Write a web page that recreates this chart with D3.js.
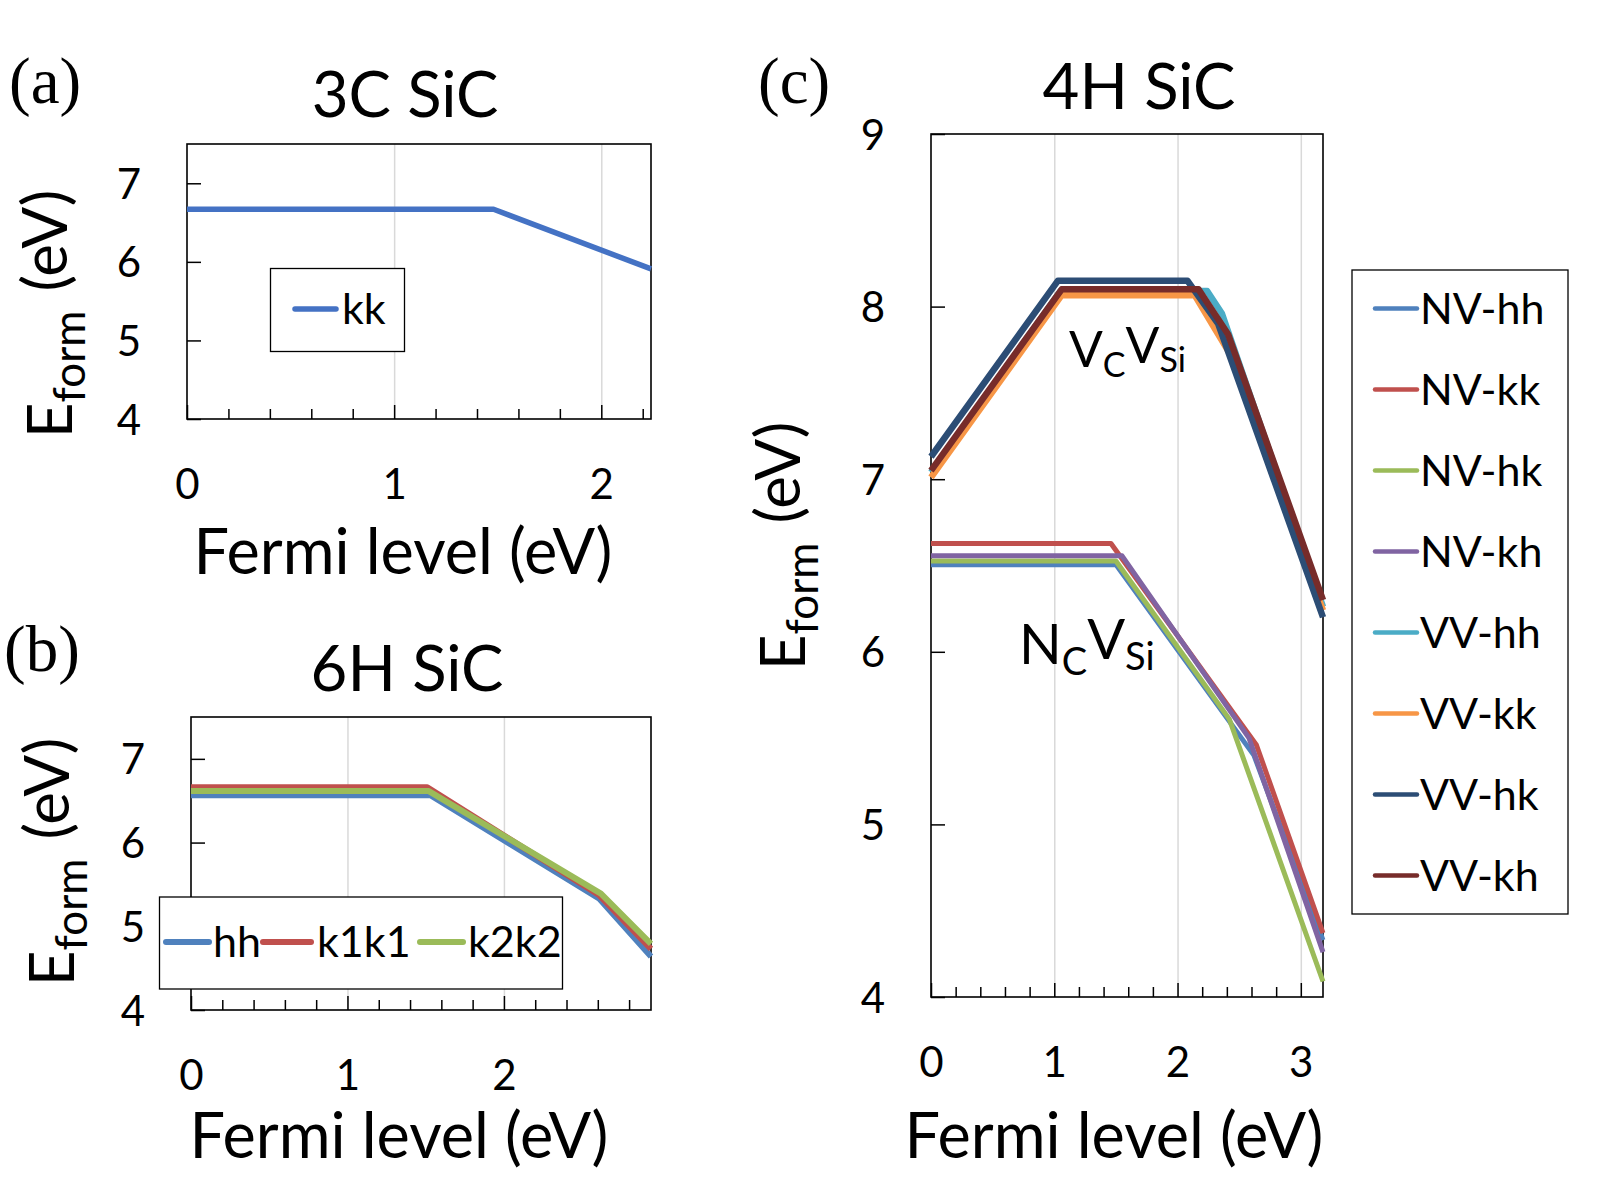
<!DOCTYPE html>
<html><head><meta charset="utf-8">
<script src="https://cdn.jsdelivr.net/npm/d3@7"></script>
<style>
html,body{margin:0;padding:0;background:#fff;}
svg text{font-family:Lato, "Open Sans", sans-serif;fill:#000;}
</style></head>
<body><svg id="fig" width="1613" height="1187"></svg>
<script>
// ---------- DATA ----------
// (a) 3C SiC
const fermi3C = [0, 1.48, 2.24];
const kk3C    = [6.67, 6.67, 5.91];
// (b) 6H SiC
const fermi6H_hh   = [0, 1.53, 2.61, 2.94];
const hh6H         = [6.565, 6.565, 5.33, 4.64];
const fermi6H_k1k1 = [0, 1.51, 2.61, 2.94];
const k1k1_6H      = [6.66, 6.66, 5.37, 4.73];
const fermi6H_k2k2 = [0, 1.52, 2.62, 2.94];
const k2k2_6H      = [6.615, 6.615, 5.39, 4.79];
// (c) 4H SiC
const fermiNVhh = [0, 1.50, 2.62, 3.18];  const NVhh = [6.505, 6.505, 5.40, 4.33];
const fermiNVkk = [0, 1.46, 2.64, 3.18];  const NVkk = [6.627, 6.627, 5.46, 4.37];
const fermiNVhk = [0, 1.50, 2.42, 3.18];  const NVhk = [6.526, 6.526, 5.61, 4.09];
const fermiNVkh = [0, 1.55, 2.58, 3.18];  const NVkh = [6.556, 6.556, 5.50, 4.26];
const fermiVVhh = [0, 1.05, 2.24, 2.36, 3.18]; const VVhh = [7.04, 8.09, 8.09, 7.96, 6.26];
const fermiVVkk = [0, 1.06, 2.14, 2.43, 3.18]; const VVkk = [7.01, 8.066, 8.066, 7.72, 6.24];
const fermiVVhk = [0, 1.03, 2.08, 2.33, 3.18]; const VVhk = [7.13, 8.15, 8.15, 7.90, 6.20];
const fermiVVkh = [0, 1.06, 2.17, 2.41, 3.18]; const VVkh = [7.05, 8.10, 8.10, 7.84, 6.30];

const names3C = ["kk"];
const names6H = ["hh", "k1k1", "k2k2"];
const names4H = ["NV-hh", "NV-kk", "NV-hk", "NV-kh", "VV-hh", "VV-kk", "VV-hk", "VV-kh"];
const xTicksA = [0, 1, 2], xTicksB = [0, 1, 2], xTicksC = [0, 1, 2, 3];
const yTicksAB = [4, 5, 6, 7], yTicksC = [4, 5, 6, 7, 8, 9];

// ---------- DRAWING ----------
const svg = d3.select("#fig");
const line = (xs, ys, x, y) => d3.line().x(d => x(d[0])).y(d => y(d[1]))(xs.map((v, i) => [v, ys[i]]));

function panel(o) {
  const g = svg.append("g");
  const x = d3.scaleLinear().domain(o.xDom).range([o.left, o.right]);
  const y = d3.scaleLinear().domain(o.yDom).range([o.bottom, o.top]);
  const h = o.bottom - o.top;
  // gridlines
  g.append("g").attr("transform", `translate(0,${o.bottom})`)
    .call(d3.axisBottom(x).tickValues(o.xTicks.filter(t => t > 0)).tickSize(-h).tickFormat(""))
    .call(s => s.select(".domain").remove())
    .call(s => s.selectAll("line").attr("stroke", "#d9d9d9").attr("stroke-width", 1.5));
  // minor ticks
  const minor = d3.range(0, o.xDom[1] + 1e-9, 0.2).filter(v => Math.abs(v - Math.round(v)) > 1e-6);
  g.append("g").attr("transform", `translate(0,${o.bottom})`)
    .call(d3.axisBottom(x).tickValues(minor).tickSize(-10).tickFormat(""))
    .call(s => s.select(".domain").remove())
    .call(s => s.selectAll("line").attr("stroke", "#000").attr("stroke-width", 1.5));
  // major x axis
  const xa = g.append("g").attr("transform", `translate(0,${o.bottom})`)
    .call(d3.axisBottom(x).tickValues(o.xTicks).tickSize(-14).tickFormat(d3.format("d")));
  xa.select(".domain").remove();
  xa.selectAll("line").attr("stroke", "#000").attr("stroke-width", 1.5);
  xa.selectAll("text").attr("y", 80).attr("dy", 0).style("font-size", "42px")
    .style("font-family", "Lato").attr("fill", "#000");
  // y axis
  const ya = g.append("g").attr("transform", `translate(${o.left},0)`)
    .call(d3.axisLeft(y).tickValues(o.yTicks).tickSize(-14).tickFormat(d3.format("d")));
  ya.select(".domain").remove();
  ya.selectAll("line").attr("stroke", "#000").attr("stroke-width", 1.5);
  ya.selectAll("text").attr("x", -46).attr("dy", "0.36em").style("font-size", "42px")
    .style("font-family", "Lato").attr("fill", "#000");
  // frame
  g.append("rect").attr("x", o.left).attr("y", o.top).attr("width", o.right - o.left).attr("height", h)
    .attr("fill", "none").attr("stroke", "#000").attr("stroke-width", 1.6);
  // series
  o.series.forEach(s => {
    g.append("path").attr("d", line(s.x, s.y, x, y)).attr("fill", "none")
      .attr("stroke", s.color).attr("stroke-width", s.w).attr("stroke-linejoin", "round");
  });
  // titles
  g.append("text").attr("x", o.titleX).attr("y", o.titleY).attr("text-anchor", "middle")
    .style("font-size", "63.5px").text(o.title);
  g.append("text").attr("x", o.letterX).attr("y", o.letterY)
    .style("font-family", "'Liberation Serif', serif").style("font-size", "65px").text(o.letter);
  g.append("text").attr("x", (o.left + o.right) / 2 + o.xlabDx).attr("y", o.xlabY).attr("text-anchor", "middle")
    .style("font-size", "63px").text("Fermi level (eV)");
  const yl = g.append("text").attr("transform", `translate(${o.ylabX},${o.ylabY}) rotate(-90)`)
    .attr("text-anchor", "middle").style("font-size", "62px");
  yl.append("tspan").text("E");
  yl.append("tspan").attr("dy", "0.3em").style("font-size", "44px").text("form");
  yl.append("tspan").attr("dy", "-0.3em").attr("dx", 19).text("(eV)");
  return {g, x, y};
}

// (a)
const pa = panel({
  left: 187, right: 651, top: 144, bottom: 419, xDom: [0, 2.24], yDom: [4, 7.5],
  xTicks: xTicksA, yTicks: yTicksAB, title: "3C SiC", titleX: 405, titleY: 117,
  letter: "(a)", letterX: 9, letterY: 103, xlabDx: -16, xlabY: 574, ylabX: 72, ylabY: 314,
  series: [{x: fermi3C, y: kk3C, color: "#4472C4", w: 5.5}]
});
// legend (a)
pa.g.append("rect").attr("x", 270.5).attr("y", 268.5).attr("width", 134).attr("height", 83)
  .attr("fill", "#fff").attr("stroke", "#000").attr("stroke-width", 1.3);
pa.g.append("line").attr("x1", 295).attr("x2", 336).attr("y1", 309).attr("y2", 309)
  .attr("stroke", "#4472C4").attr("stroke-width", 5.5).attr("stroke-linecap", "round");
pa.g.append("text").attr("x", 342).attr("y", 324).style("font-size", "43px").text(names3C[0]);

// (b)
const cols6H = ["#4F81BD", "#C0504D", "#9BBB59"];
const pb = panel({
  left: 191, right: 651, top: 717, bottom: 1010, xDom: [0, 2.94], yDom: [4, 7.5],
  xTicks: xTicksB, yTicks: yTicksAB, title: "6H SiC", titleX: 407, titleY: 691,
  letter: "(b)", letterX: 4, letterY: 671, xlabDx: -22, xlabY: 1158, ylabX: 74, ylabY: 862,
  series: [
    {x: fermi6H_hh, y: hh6H, color: cols6H[0], w: 6},
    {x: fermi6H_k1k1, y: k1k1_6H, color: cols6H[1], w: 6},
    {x: fermi6H_k2k2, y: k2k2_6H, color: cols6H[2], w: 6}
  ]
});
pb.g.append("rect").attr("x", 159.5).attr("y", 897).attr("width", 403).attr("height", 92)
  .attr("fill", "#fff").attr("stroke", "#000").attr("stroke-width", 1.3);
const legB = [[166, 209, 213], [263, 311, 317], [420, 463, 468]];
legB.forEach((p, i) => {
  pb.g.append("line").attr("x1", p[0]).attr("x2", p[1]).attr("y1", 942).attr("y2", 942)
    .attr("stroke", cols6H[i]).attr("stroke-width", 6).attr("stroke-linecap", "round");
  pb.g.append("text").attr("x", p[2]).attr("y", 957).style("font-size", "43px").text(names6H[i]);
});

// (c)
const cols4H = ["#4F81BD", "#C0504D", "#9BBB59", "#8064A2", "#4BACC6", "#F79646", "#2C4D75", "#772C2A"];
const xs4H = [fermiNVhh, fermiNVkk, fermiNVhk, fermiNVkh, fermiVVhh, fermiVVkk, fermiVVhk, fermiVVkh];
const ys4H = [NVhh, NVkk, NVhk, NVkh, VVhh, VVkk, VVhk, VVkh];
const pc = panel({
  left: 931, right: 1323, top: 134, bottom: 997, xDom: [0, 3.18], yDom: [4, 9],
  xTicks: xTicksC, yTicks: yTicksC, title: "4H SiC", titleX: 1139, titleY: 109,
  letter: "(c)", letterX: 758, letterY: 103, xlabDx: -13, xlabY: 1158, ylabX: 805, ylabY: 546,
  series: xs4H.map((xs, i) => ({x: xs, y: ys4H[i], color: cols4H[i], w: i < 4 ? 5 : 6.5}))
});
pc.g.append("rect").attr("x", 1352).attr("y", 270).attr("width", 216).attr("height", 644)
  .attr("fill", "#fff").attr("stroke", "#000").attr("stroke-width", 1.3);
names4H.forEach((n, i) => {
  const yy = 308.6 + i * 81;
  pc.g.append("line").attr("x1", 1375).attr("x2", 1417).attr("y1", yy).attr("y2", yy)
    .attr("stroke", cols4H[i]).attr("stroke-width", 4.5).attr("stroke-linecap", "round");
  pc.g.append("text").attr("x", 1420).attr("y", yy + 15).style("font-size", "43px").text(n);
});
// annotations
const a1 = pc.g.append("text").attr("x", 1069).attr("y", 367).style("font-size", "50px");
a1.append("tspan").text("V");
a1.append("tspan").attr("dy", "0.28em").style("font-size", "34px").text("C");
a1.append("tspan").attr("dy", "-0.28em").text("V");
a1.append("tspan").attr("dy", "0.28em").style("font-size", "34px").text("Si");
const a2 = pc.g.append("text").attr("x", 1019).attr("y", 664).style("font-size", "56px");
a2.append("tspan").text("N");
a2.append("tspan").attr("dy", "0.3em").style("font-size", "38px").text("C");
a2.append("tspan").attr("dy", "-0.3em").text("V");
a2.append("tspan").attr("dy", "0.3em").style("font-size", "38px").text("Si");
</script></body></html>
